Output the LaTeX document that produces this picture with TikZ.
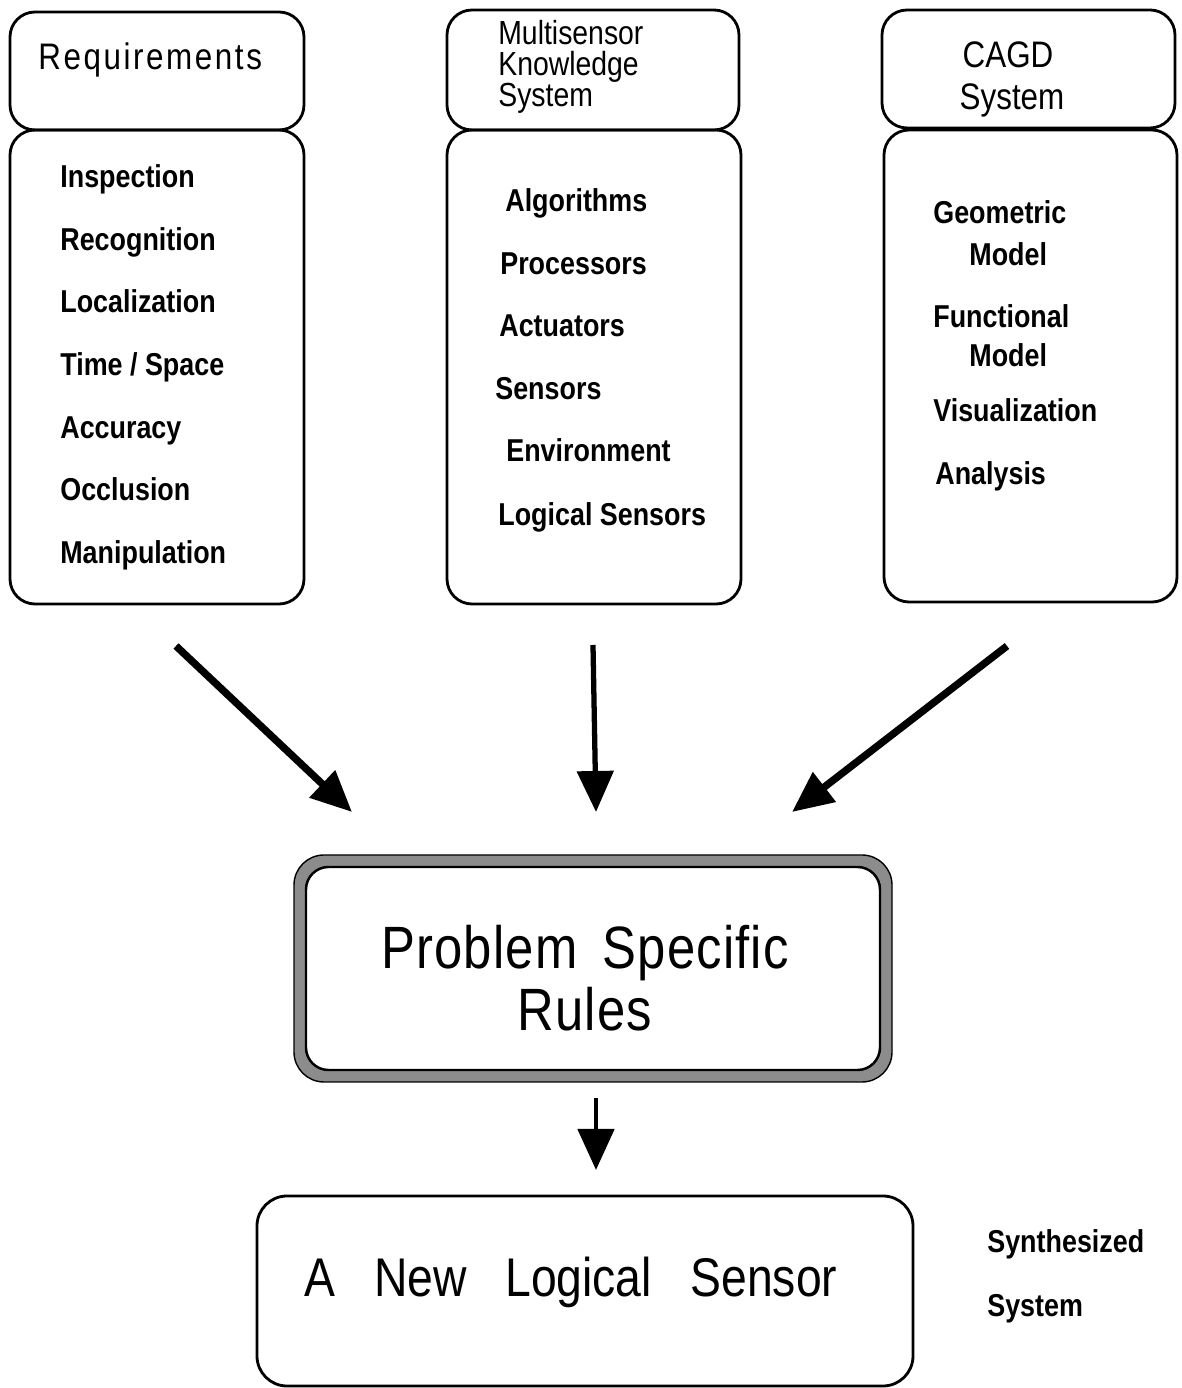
\documentclass[tikz,border=0pt]{standalone}
\usepackage{fontspec}
\setmainfont{Liberation Sans}[FakeStretch=0.85]
\usepackage{tikz}
\usetikzlibrary{arrows.meta}

\tikzset{
  box/.style={draw,line width=1.6pt,rounded corners=0.5cm,inner sep=0pt},
  hdr/.style={anchor=base west,inner sep=0pt,font=\fontsize{19}{20}\selectfont},
  item/.style={anchor=base west,inner sep=0pt,font=\fontsize{18}{18}\selectfont\bfseries},
  big/.style={inner sep=0pt,font=\fontsize{33}{35}\selectfont},
  flow/.style={line width=4.2pt,-{Triangle[length=0.82cm,width=0.72cm]}}
}

\begin{document}
\begin{tikzpicture}
\useasboundingbox (0,0) rectangle (23.64,27.76);

\node [box,minimum width=5.88cm,minimum height=2.36cm] (reqh) at(3.14,26.34){};
\node [box,minimum width=5.88cm,minimum height=9.48cm] (reqb) at(3.14,20.42){};
\node [box,minimum width=5.84cm,minimum height=2.40cm] (msh) at(11.86,26.36){};
\node [box,minimum width=5.88cm,minimum height=9.48cm] (msb) at(11.88,20.42){};
\node [box,minimum width=5.86cm,minimum height=2.36cm] (cagdh) at(20.57,26.38){};
\node [box,minimum width=5.86cm,minimum height=9.44cm] (cagdb) at(20.61,20.44){};

\node [hdr,font=\fontsize{21}{22}\selectfont\addfontfeature{LetterSpace=7}] (req) at(0.76,26.36){Requirements};
\node [item] (insp) at(1.20,24.00){Inspection};
\node [item] (recog) at(1.20,22.74){Recognition};
\node [item] (local) at(1.20,21.50){Localization};
\node [item] (time) at(1.20,20.24){Time / Space};
\node [item] (acc) at(1.20,18.98){Accuracy};
\node [item] (occl) at(1.20,17.74){Occlusion};
\node [item] (manip) at(1.20,16.48){Manipulation};

\node [hdr] (ms1) at(9.96,26.86){Multisensor};
\node [hdr] (ms2) at(9.96,26.24){Knowledge};
\node [hdr] (ms3) at(9.96,25.62){System};
\node [item] (algo) at(10.10,23.52){Algorithms};
\node [item] (proc) at(10.00,22.26){Processors};
\node [item] (act) at(9.98,21.02){Actuators};
\node [item] (sens) at(9.90,19.76){Sensors};
\node [item] (env) at(10.12,18.52){Environment};
\node [item] (lsens) at(9.96,17.24){Logical Sensors};

\node [hdr,anchor=base,font=\fontsize{21}{22}\selectfont] (cagd) at(20.16,26.40){CAGD};
\node [hdr,anchor=base,font=\fontsize{21}{22}\selectfont] (sys) at(20.24,25.56){System};
\node [item] (geo) at(18.66,23.28){Geometric};
\node [item] (geom) at(19.38,22.44){Model};
\node [item] (func) at(18.66,21.20){Functional};
\node [item] (funcm) at(19.38,20.42){Model};
\node [item] (vis) at(18.66,19.32){Visualization};
\node [item] (ana) at(18.70,18.06){Analysis};

\node [box,draw=black,line width=0.8pt,fill=black!45,rounded corners=0.6cm,minimum width=11.96cm,minimum height=4.54cm] (rulesbg) at(11.86,8.39){};
\node [box,fill=white,line width=1.4pt,rounded corners=0.45cm,minimum width=11.48cm,minimum height=4.06cm] (rules) at(11.86,8.39){};
\node [big,align=center,font=\fontsize{34}{35}\selectfont\addfontfeature{LetterSpace=2}] (rulestxt) at(11.70,8.20){Problem\ \,Specific\\Rules};

\node [box,rounded corners=0.6cm,minimum width=13.12cm,minimum height=3.80cm] (newls) at(11.70,1.94){};
\node [big,font=\fontsize{31}{33}\selectfont] (newlstxt) at(11.42,2.12){A\ \ \ New\ \ \ Logical\ \ \ Sensor};
\node [item] (synth) at(19.74,2.70){Synthesized};
\node [item] (synsys) at(19.74,1.44){System};

\coordinate (a1) at(3.52,14.84);
\coordinate (b1) at(7.04,11.52);
\coordinate (a2) at(11.86,14.86);
\coordinate (b2) at(11.92,11.52);
\coordinate (a3) at(20.14,14.84);
\coordinate (b3) at(15.84,11.52);
\coordinate (a4) at(11.92,5.80);
\coordinate (b4) at(11.92,4.36);

\draw[flow](a1) -- (b1);
\draw[flow,line width=3pt](a2) -- (b2);
\draw[flow](a3) -- (b3);
\draw[flow,line width=2.8pt](a4) -- (b4);

\end{tikzpicture}
\end{document}
